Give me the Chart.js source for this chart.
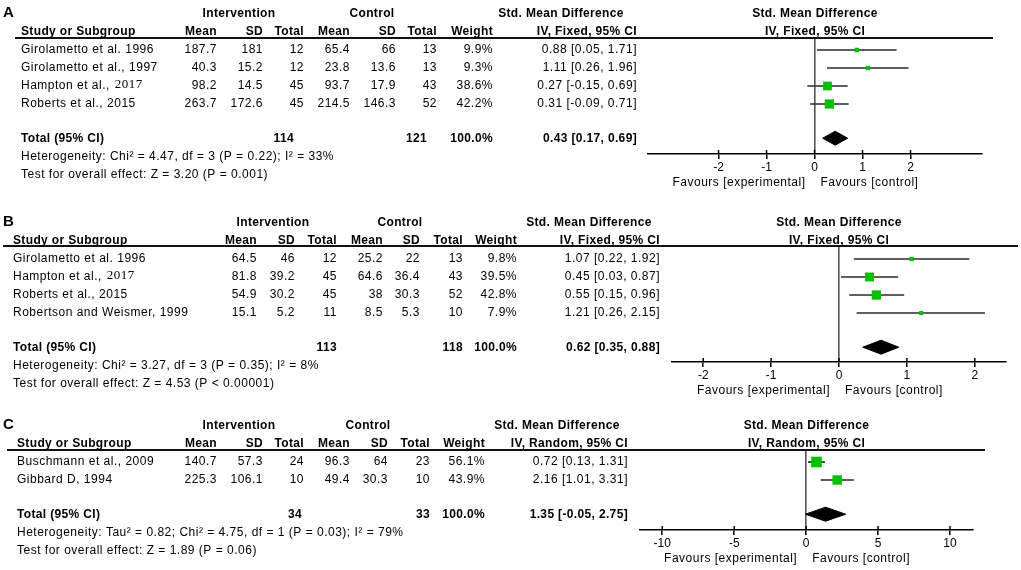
<!DOCTYPE html>
<html><head><meta charset="utf-8">
<script src="https://cdn.jsdelivr.net/npm/chart.js@4.4.1/dist/chart.umd.min.js"></script>
<style>
html,body{margin:0;padding:0;background:#fff;}
body{width:1021px;height:570px;position:relative;overflow:hidden;}
canvas{position:absolute;left:0;}
</style></head><body>
<canvas id="cA" width="1021" height="195" style="top:0px;width:1021px;height:195px"></canvas>
<canvas id="cB" width="1021" height="205" style="top:195px;width:1021px;height:205px"></canvas>
<canvas id="cC" width="1021" height="170" style="top:400px;width:1021px;height:170px"></canvas>
<script>
// ================= DATA =================
// Panel A
const studiesA = ['Girolametto et al. 1996', 'Girolametto et al., 1997', 'Hampton et al., 2017', 'Roberts et al., 2015'];
const intMeanA = [187.7, 40.3, 98.2, 263.7];
const intSdA   = [181, 15.2, 14.5, 172.6];
const intNA    = [12, 12, 45, 45];
const ctlMeanA = [65.4, 23.8, 93.7, 214.5];
const ctlSdA   = [66, 13.6, 17.9, 146.3];
const ctlNA    = [13, 13, 43, 52];
const weightA  = [9.9, 9.3, 38.6, 42.2];
const smdA     = [0.88, 1.11, 0.27, 0.31];
const lowA     = [0.05, 0.26, -0.15, -0.09];
const highA    = [1.71, 1.96, 0.69, 0.71];
const pooledA  = [0.43, 0.17, 0.69];
const hetA  = 'Heterogeneity: Chi² = 4.47, df = 3 (P = 0.22); I² = 33%';
const testA = 'Test for overall effect: Z = 3.20 (P = 0.001)';
const ticksA = [-2, -1, 0, 1, 2];

// Panel B
const studiesB = ['Girolametto et al. 1996', 'Hampton et al., 2017', 'Roberts et al., 2015', 'Robertson and Weismer, 1999'];
const intMeanB = [64.5, 81.8, 54.9, 15.1];
const intSdB   = [46, 39.2, 30.2, 5.2];
const intNB    = [12, 45, 45, 11];
const ctlMeanB = [25.2, 64.6, 38, 8.5];
const ctlSdB   = [22, 36.4, 30.3, 5.3];
const ctlNB    = [13, 43, 52, 10];
const weightB  = [9.8, 39.5, 42.8, 7.9];
const smdB     = [1.07, 0.45, 0.55, 1.21];
const lowB     = [0.22, 0.03, 0.15, 0.26];
const highB    = [1.92, 0.87, 0.96, 2.15];
const pooledB  = [0.62, 0.35, 0.88];
const hetB  = 'Heterogeneity: Chi² = 3.27, df = 3 (P = 0.35); I² = 8%';
const testB = 'Test for overall effect: Z = 4.53 (P < 0.00001)';
const ticksB = [-2, -1, 0, 1, 2];

// Panel C
const studiesC = ['Buschmann et al., 2009', 'Gibbard D, 1994'];
const intMeanC = [140.7, 225.3];
const intSdC   = [57.3, 106.1];
const intNC    = [24, 10];
const ctlMeanC = [96.3, 49.4];
const ctlSdC   = [64, 30.3];
const ctlNC    = [23, 10];
const weightC  = [56.1, 43.9];
const smdC     = [0.72, 2.16];
const lowC     = [0.13, 1.01];
const highC    = [1.31, 3.31];
const pooledC  = [1.35, -0.05, 2.75];
const hetC  = 'Heterogeneity: Tau² = 0.82; Chi² = 4.75, df = 1 (P = 0.03); I² = 79%';
const testC = 'Test for overall effect: Z = 1.89 (P = 0.06)';
const ticksC = [-10, -5, 0, 5, 10];

// ================= LAYOUT / STYLE =================
const ROW = 18;          // px per table row
const AXIS_H = 30;       // px reserved for x axis
const SANS = '"Liberation Sans", Arial, sans-serif';
const SERIF = '"Liberation Serif", "Times New Roman", serif';
const GREEN = '#00c000';
const serifYearStudies = ['Hampton et al., 2017'];

const layoutA = { top: 0, height: 195, areaLeft: 648, areaRight: 982, areaTop: 38, areaBottom: 154, row0: 50,
  xRange: [-3.47, 3.49], nameX: 21, letterX: 3, line: [15, 993],
  cols: { intMean: 217, intSd: 263, intN: 304, ctlMean: 350, ctlSd: 396, ctlN: 437, weight: 493, ci: 637 },
  totN: [294, 427], heads: { intervention: 239, control: 372, smd: 561 } };
const layoutB = { top: 195, height: 205, areaLeft: 672, areaRight: 1006, areaTop: 246, areaBottom: 362, row0: 259,
  xRange: [-2.46, 2.46], nameX: 13, letterX: 3, line: [3, 1018],
  cols: { intMean: 257, intSd: 295, intN: 337, ctlMean: 383, ctlSd: 420, ctlN: 463, weight: 517, ci: 660 },
  totN: [337, 463], heads: { intervention: 273, control: 400, smd: 589 } };
const layoutC = { top: 400, height: 170, areaLeft: 640, areaRight: 973, areaTop: 450, areaBottom: 530, row0: 462,
  xRange: [-11.55, 11.6], nameX: 17, letterX: 3, line: [7, 985],
  cols: { intMean: 217, intSd: 263, intN: 304, ctlMean: 350, ctlSd: 388, ctlN: 430, weight: 485, ci: 628 },
  totN: [302, 430], heads: { intervention: 239, control: 368, smd: 557 } };

const panelA = { letter: 'A', studies: studiesA, intMean: intMeanA, intSd: intSdA, intN: intNA, ctlMean: ctlMeanA, ctlSd: ctlSdA, ctlN: ctlNA,
  weight: weightA, smd: smdA, low: lowA, high: highA, pooled: pooledA, het: hetA, test: testA, ticks: ticksA, method: 'IV, Fixed, 95% CI', L: layoutA };
const panelB = { letter: 'B', studies: studiesB, intMean: intMeanB, intSd: intSdB, intN: intNB, ctlMean: ctlMeanB, ctlSd: ctlSdB, ctlN: ctlNB,
  weight: weightB, smd: smdB, low: lowB, high: highB, pooled: pooledB, het: hetB, test: testB, ticks: ticksB, method: 'IV, Fixed, 95% CI', L: layoutB };
const panelC = { letter: 'C', studies: studiesC, intMean: intMeanC, intSd: intSdC, intN: intNC, ctlMean: ctlMeanC, ctlSd: ctlSdC, ctlN: ctlNC,
  weight: weightC, smd: smdC, low: lowC, high: highC, pooled: pooledC, het: hetC, test: testC, ticks: ticksC, method: 'IV, Random, 95% CI', L: layoutC };

const sum = a => a.reduce((s, v) => s + v, 0);
const ciText = (e, lo, hi) => `${e.toFixed(2)} [${lo.toFixed(2)}, ${hi.toFixed(2)}]`;

function txt(ctx, s, x, y, align, bold, size, family) {
  ctx.font = (bold ? 'bold ' : '') + (size || 12) + 'px ' + (family || SANS);
  try { ctx.letterSpacing = bold ? '0.35px' : '0.5px'; } catch (e) {}
  ctx.textAlign = align;
  ctx.fillText(s, x, y);
}

function makeTablePlugin(p) {
  const L = p.L;
  return {
    id: 'forestTable' + p.letter,
    afterDraw(chart) {
      const ctx = chart.ctx, ys = chart.scales.y, xs = chart.scales.x, a = chart.chartArea;
      const Y = v => ys.getPixelForValue(v);
      const n = p.studies.length;
      const t = n + 0.9;
      const plotCenter = (a.left + a.right) / 2;
      ctx.save();
      // header rule
      ctx.strokeStyle = '#111'; ctx.lineWidth = 2;
      ctx.beginPath(); ctx.moveTo(L.line[0], a.top); ctx.lineTo(L.line[1], a.top); ctx.stroke();
      // upward tick stubs
      ctx.strokeStyle = '#000'; ctx.lineWidth = 1.5;
      xs.ticks.forEach((tk, i) => {
        const px = xs.getPixelForTick(i);
        ctx.beginPath(); ctx.moveTo(px, a.bottom); ctx.lineTo(px, a.bottom - 4); ctx.stroke();
      });
      ctx.fillStyle = '#000'; ctx.textBaseline = 'middle';
      // titles
      txt(ctx, p.letter, L.letterX, Y(-2.05), 'left', true, 15);
      txt(ctx, 'Intervention', L.heads.intervention, Y(-2), 'center', true);
      txt(ctx, 'Control', L.heads.control, Y(-2), 'center', true);
      txt(ctx, 'Std. Mean Difference', L.heads.smd, Y(-2), 'center', true);
      txt(ctx, 'Std. Mean Difference', plotCenter, Y(-2), 'center', true);
      const hy = Y(-1.03);
      txt(ctx, 'Study or Subgroup', L.nameX, hy, 'left', true);
      txt(ctx, 'Mean', L.cols.intMean, hy, 'right', true);
      txt(ctx, 'SD', L.cols.intSd, hy, 'right', true);
      txt(ctx, 'Total', L.cols.intN, hy, 'right', true);
      txt(ctx, 'Mean', L.cols.ctlMean, hy, 'right', true);
      txt(ctx, 'SD', L.cols.ctlSd, hy, 'right', true);
      txt(ctx, 'Total', L.cols.ctlN, hy, 'right', true);
      txt(ctx, 'Weight', L.cols.weight, hy, 'right', true);
      txt(ctx, p.method, L.cols.ci, hy, 'right', true);
      txt(ctx, p.method, plotCenter, hy, 'center', true);
      // study rows
      p.studies.forEach((name, i) => {
        const y = Y(i);
        if (serifYearStudies.includes(name)) {
          const k = name.lastIndexOf(' ');
          const pre = name.slice(0, k + 1), yr = name.slice(k + 1);
          txt(ctx, pre, L.nameX, y, 'left', false);
          const w = ctx.measureText(pre).width;
          txt(ctx, yr, L.nameX + w + 1, y - 1, 'left', false, 13, SERIF);
        } else {
          txt(ctx, name, L.nameX, y, 'left', false);
        }
        txt(ctx, String(p.intMean[i]), L.cols.intMean, y, 'right', false);
        txt(ctx, String(p.intSd[i]), L.cols.intSd, y, 'right', false);
        txt(ctx, String(p.intN[i]), L.cols.intN, y, 'right', false);
        txt(ctx, String(p.ctlMean[i]), L.cols.ctlMean, y, 'right', false);
        txt(ctx, String(p.ctlSd[i]), L.cols.ctlSd, y, 'right', false);
        txt(ctx, String(p.ctlN[i]), L.cols.ctlN, y, 'right', false);
        txt(ctx, p.weight[i].toFixed(1) + '%', L.cols.weight, y, 'right', false);
        txt(ctx, ciText(p.smd[i], p.low[i], p.high[i]), L.cols.ci, y, 'right', false);
      });
      // total row
      const ty = Y(t);
      txt(ctx, 'Total (95% CI)', L.nameX, ty, 'left', true);
      txt(ctx, String(sum(p.intN)), L.totN[0], ty, 'right', true);
      txt(ctx, String(sum(p.ctlN)), L.totN[1], ty, 'right', true);
      txt(ctx, sum(p.weight).toFixed(1) + '%', L.cols.weight, ty, 'right', true);
      txt(ctx, ciText(p.pooled[0], p.pooled[1], p.pooled[2]), L.cols.ci, ty, 'right', true);
      txt(ctx, p.het, L.nameX, Y(t + 1.05), 'left', false);
      txt(ctx, p.test, L.nameX, Y(t + 2.05), 'left', false);
      // favours labels
      const x0 = xs.getPixelForValue(0);
      const fy = a.bottom + 29;
      txt(ctx, 'Favours [experimental]', x0 - 9, fy, 'right', false);
      txt(ctx, 'Favours [control]', x0 + 6, fy, 'left', false);
      ctx.restore();
    }
  };
}

function makeChart(id, p) {
  const L = p.L;
  const areaTop = L.areaTop - L.top, areaBottom = L.areaBottom - L.top;
  const n = p.studies.length;
  const t = n + 0.9;
  const d = 7 / ROW; // diamond half height in row units
  const datasets = [];
  datasets.push({ type: 'scatter', data: p.smd.map((v, i) => ({ x: v, y: i })), pointStyle: 'rect',
    pointRadius: p.weight.map(w => Math.sqrt(w)), backgroundColor: GREEN, borderColor: GREEN, borderWidth: 0, order: 0 });
  p.low.forEach((lo, i) => datasets.push({ type: 'line', data: [{ x: lo, y: i }, { x: p.high[i], y: i }],
    borderColor: '#2a2a2a', borderWidth: 1.7, pointRadius: 0, fill: false, order: 1 }));
  const [est, plo, phi] = p.pooled;
  datasets.push({ type: 'line', data: [{ x: plo, y: t }, { x: est, y: t + d }, { x: phi, y: t }],
    borderColor: '#000', borderWidth: 1, backgroundColor: '#000', pointRadius: 0, fill: false, order: 2 });
  datasets.push({ type: 'line', data: [{ x: plo, y: t }, { x: est, y: t - d }, { x: phi, y: t }],
    borderColor: '#000', borderWidth: 1, backgroundColor: '#000', pointRadius: 0, fill: '-1', order: 2 });

  return new Chart(document.getElementById(id), {
    type: 'scatter',
    data: { datasets },
    options: {
      responsive: false, animation: false, events: [],
      layout: { padding: { left: L.areaLeft, right: 1021 - L.areaRight, top: areaTop, bottom: L.height - areaBottom - AXIS_H } },
      plugins: { legend: { display: false }, tooltip: { enabled: false } },
      scales: {
        x: {
          type: 'linear', position: 'bottom', min: L.xRange[0], max: L.xRange[1],
          afterBuildTicks: s => { s.ticks = p.ticks.map(v => ({ value: v })); },
          afterFit: s => { s.height = AXIS_H; },
          border: { display: true, color: '#000', width: 1.5 },
          grid: {
            drawOnChartArea: true, drawTicks: true, tickLength: 5, tickColor: '#000', tickWidth: 1.5,
            color: c => (c.tick && c.tick.value === 0) ? '#555' : 'rgba(0,0,0,0)', lineWidth: 1.6
          },
          ticks: { color: '#000', padding: 1, maxRotation: 0, autoSkip: false,
            font: { family: SANS, size: 12 }, callback: v => String(v) }
        },
        y: {
          type: 'linear', display: false, reverse: true,
          min: (L.areaTop - L.row0) / ROW, max: (L.areaBottom - L.row0) / ROW
        }
      }
    },
    plugins: [makeTablePlugin(p)]
  });
}

makeChart('cA', panelA);
makeChart('cB', panelB);
makeChart('cC', panelC);
</script>
</body></html>
